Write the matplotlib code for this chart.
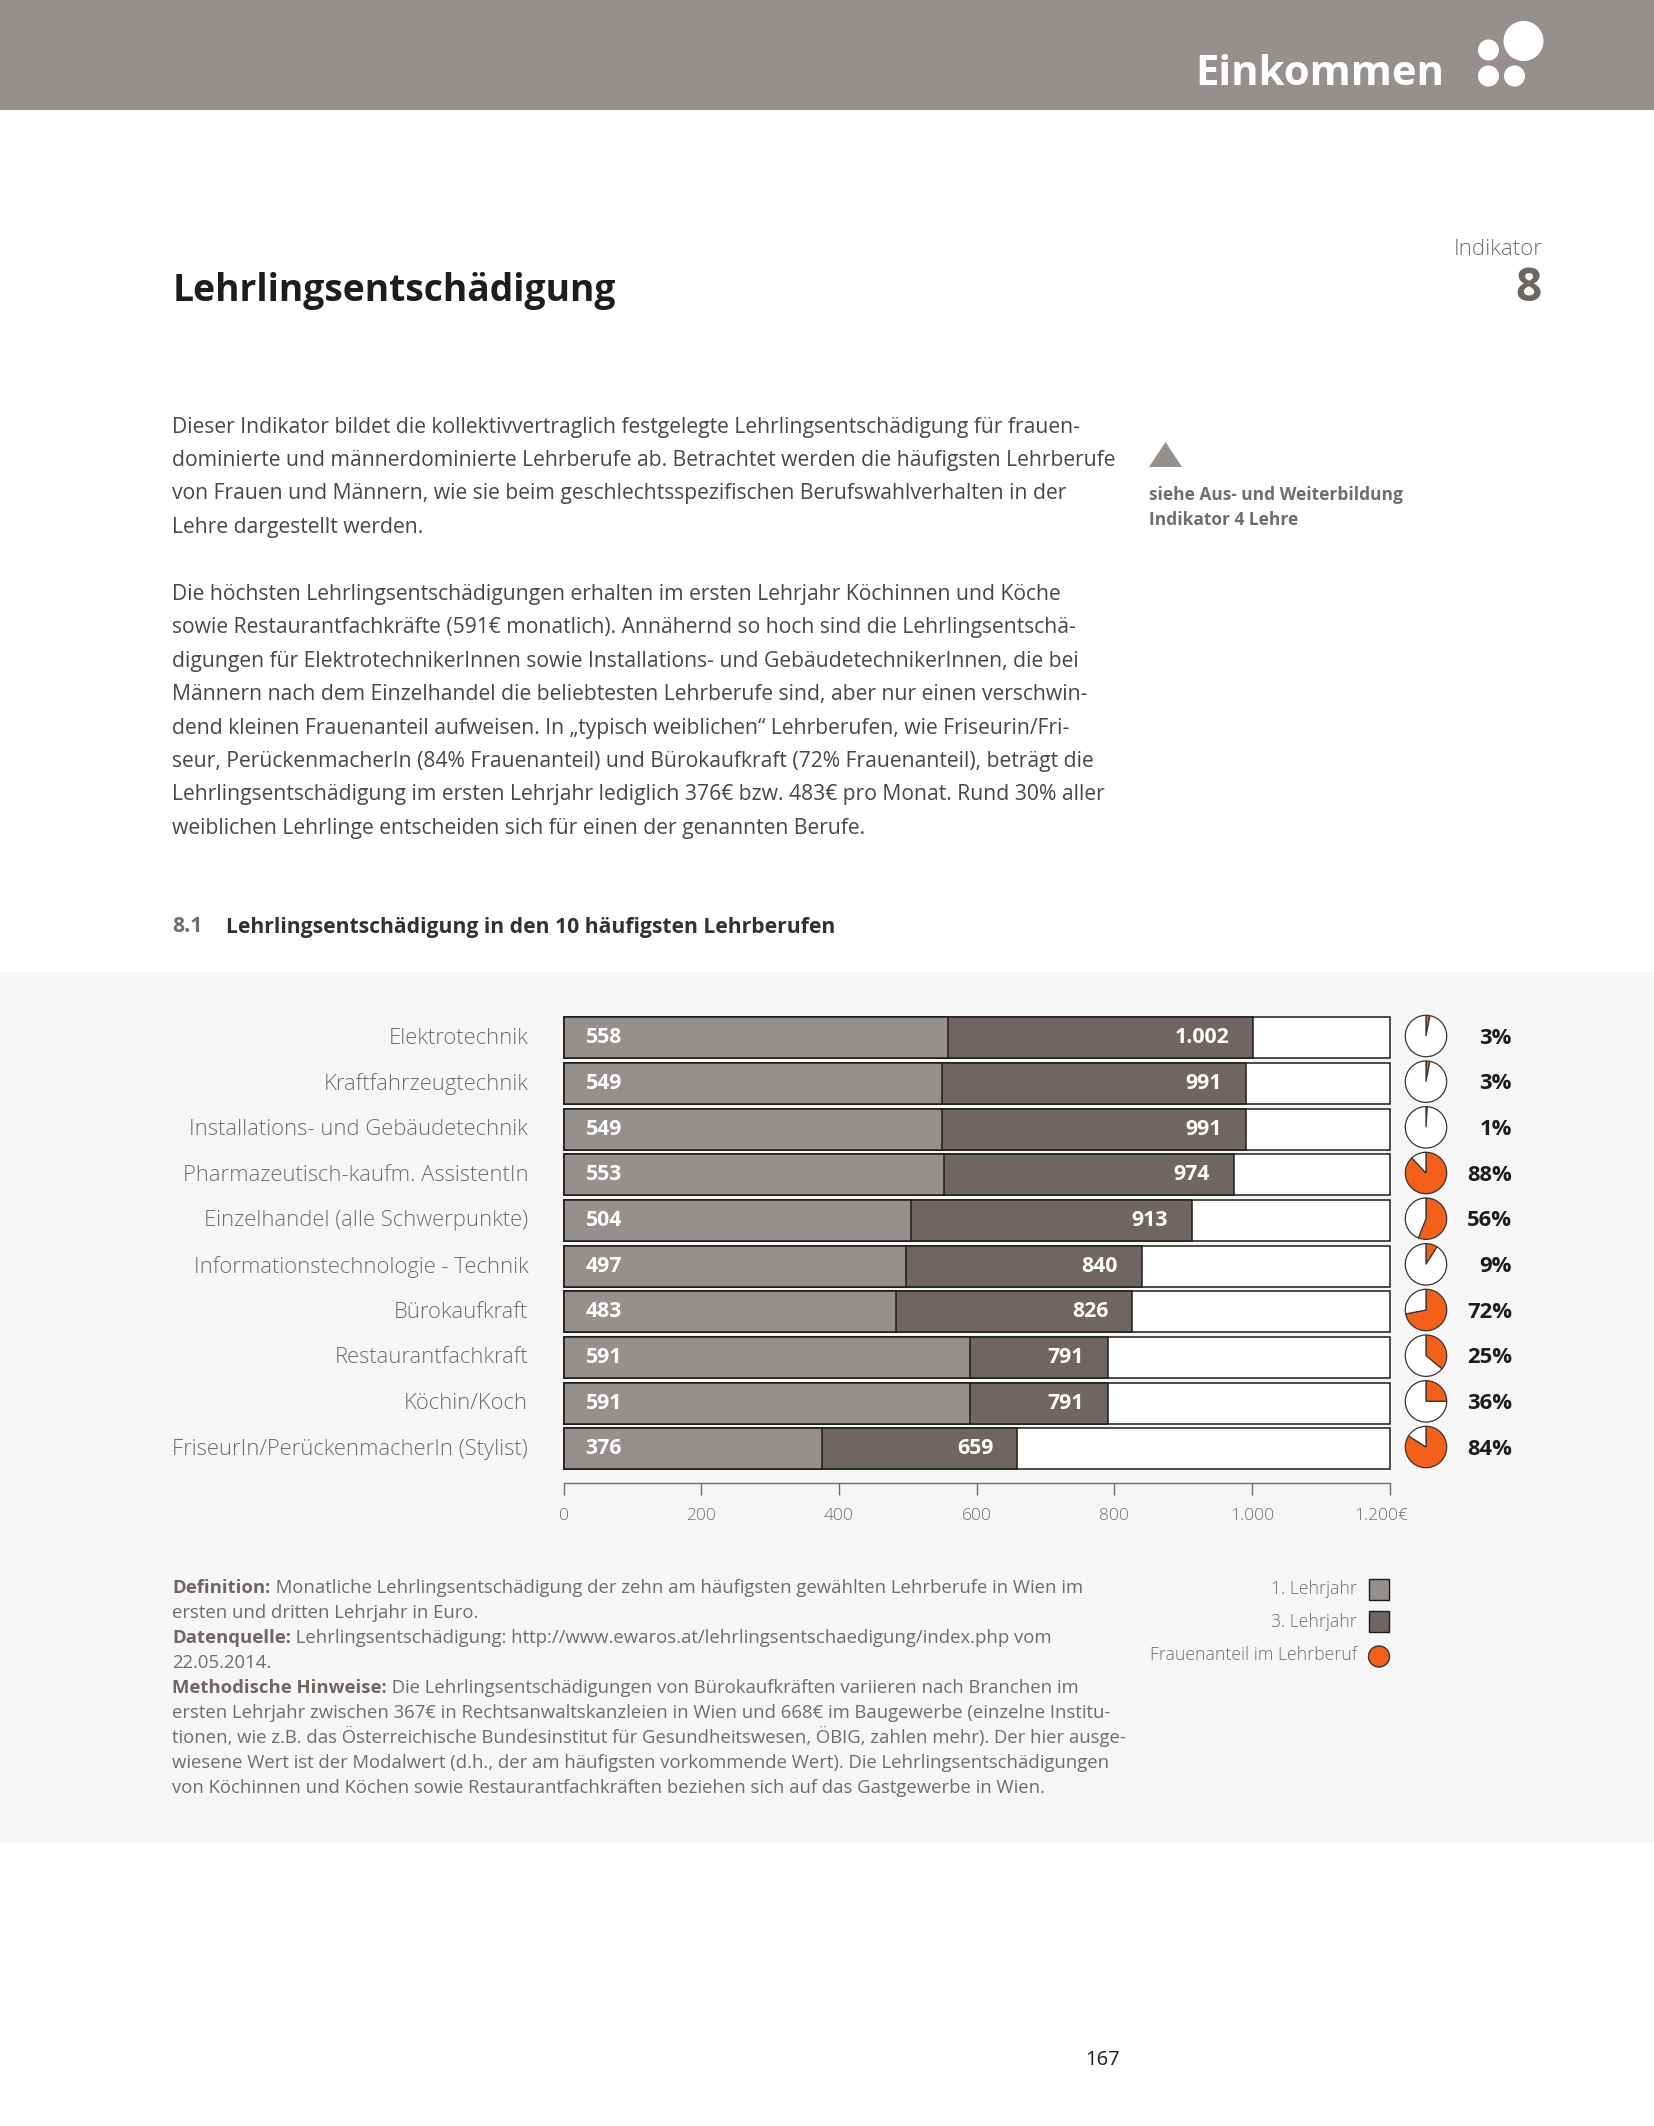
import matplotlib
matplotlib.use("Agg")
import matplotlib.pyplot as plt
from matplotlib.patches import Circle, Polygon, Rectangle
from matplotlib.transforms import ScaledTranslation

W, H = 1654, 2126
plt.rcParams["font.family"] = ["Open Sans", "DejaVu Sans"]

categories = [
    "Elektrotechnik", "Kraftfahrzeugtechnik", "Installations- und Gebäudetechnik",
    "Pharmazeutisch-kaufm. AssistentIn", "Einzelhandel (alle Schwerpunkte)",
    "Informationstechnologie - Technik", "Bürokaufkraft", "Restaurantfachkraft",
    "Köchin/Koch", "FriseurIn/PerückenmacherIn (Stylist)",
]
year1 = [558, 549, 549, 553, 504, 497, 483, 591, 591, 376]
year3 = [1002, 991, 991, 974, 913, 840, 826, 791, 791, 659]
year3_labels = ["1.002", "991", "991", "974", "913", "840", "826", "791", "791", "659"]
female_labels = ["3%", "3%", "1%", "88%", "56%", "9%", "72%", "25%", "36%", "84%"]
# the printed pies for 25% and 36% are swapped in the source
female_pies = [3, 3, 1, 88, 56, 9, 72, 36, 25, 84]
xticks = [0, 200, 400, 600, 800, 1000, 1200]
xtick_labels = ["0", "200", "400", "600", "800", "1.000", "1.200€"]

para1 = [
    "Dieser Indikator bildet die kollektivvertraglich festgelegte Lehrlingsentschädigung für frauen-",
    "dominierte und männerdominierte Lehrberufe ab. Betrachtet werden die häufigsten Lehrberufe",
    "von Frauen und Männern, wie sie beim geschlechtsspezifischen Berufswahlverhalten in der",
    "Lehre dargestellt werden.",
]
para2 = [
    "Die höchsten Lehrlingsentschädigungen erhalten im ersten Lehrjahr Köchinnen und Köche",
    "sowie Restaurantfachkräfte (591€ monatlich). Annähernd so hoch sind die Lehrlingsentschä-",
    "digungen für ElektrotechnikerInnen sowie Installations- und GebäudetechnikerInnen, die bei",
    "Männern nach dem Einzelhandel die beliebtesten Lehrberufe sind, aber nur einen verschwin-",
    "dend kleinen Frauenanteil aufweisen. In „typisch weiblichen“ Lehrberufen, wie Friseurin/Fri-",
    "seur, PerückenmacherIn (84% Frauenanteil) und Bürokaufkraft (72% Frauenanteil), beträgt die",
    "Lehrlingsentschädigung im ersten Lehrjahr lediglich 376€ bzw. 483€ pro Monat. Rund 30% aller",
    "weiblichen Lehrlinge entscheiden sich für einen der genannten Berufe.",
]
notes = [
    ("Definition:", " Monatliche Lehrlingsentschädigung der zehn am häufigsten gewählten Lehrberufe in Wien im"),
    ("", "ersten und dritten Lehrjahr in Euro."),
    ("Datenquelle:", " Lehrlingsentschädigung: http://www.ewaros.at/lehrlingsentschaedigung/index.php vom"),
    ("", "22.05.2014."),
    ("Methodische Hinweise:", " Die Lehrlingsentschädigungen von Bürokaufkräften variieren nach Branchen im"),
    ("", "ersten Lehrjahr zwischen 367€ in Rechtsanwaltskanzleien in Wien und 668€ im Baugewerbe (einzelne Institu-"),
    ("", "tionen, wie z.B. das Österreichische Bundesinstitut für Gesundheitswesen, ÖBIG, zahlen mehr). Der hier ausge-"),
    ("", "wiesene Wert ist der Modalwert (d.h., der am häufigsten vorkommende Wert). Die Lehrlingsentschädigungen"),
    ("", "von Köchinnen und Köchen sowie Restaurantfachkräften beziehen sich auf das Gastgewerbe in Wien."),
]

GREY = "#958f8e"
DARK = "#6f6663"
ORANGE = "#f26019"
PANEL = "#f6f6f6"
INK = "#1d1d1b"
BODY = "#4b4543"
LABEL = "#716c6b"


def pixel_rect(left, top, right, bottom):
    return [left / W, 1 - bottom / H, (right - left) / W, (bottom - top) / H]


fig = plt.figure(figsize=(W / 100, H / 100), dpi=100, facecolor="white")

# page layer, in image pixels
page = fig.add_axes([0, 0, 1, 1], zorder=0)
page.set_xlim(0, W)
page.set_ylim(H, 0)
page.axis("off")
page.add_patch(Rectangle((0, 0), W, 110, fc=GREY, ec="none"))
page.add_patch(Rectangle((0, 972), W, 871, fc=PANEL, ec="none"))
for cx, cy, r in [(1523.5, 41, 20), (1488.5, 50, 10.5), (1488.5, 76, 10.5), (1514.5, 76, 10.5)]:
    page.add_patch(Circle((cx, cy), r, fc="white", ec="none"))
page.text(1444, 85, "Einkommen", ha="right", va="baseline", color="white", fontsize=30.2, fontweight="bold")
page.text(1543, 255, "Indikator", ha="right", va="baseline", color=LABEL, fontsize=16, fontweight="light")
page.text(1542, 301, "8", ha="right", va="baseline", color=DARK, fontsize=33, fontweight="bold")
page.text(172.5, 301, "Lehrlingsentschädigung", va="baseline", color=INK, fontsize=26.8, fontweight="bold")

for i, line in enumerate(para1):
    page.text(172.5, 432.5 + 33.4 * i, line, va="baseline", color=BODY, fontsize=15.2)
for i, line in enumerate(para2):
    page.text(172.5, 600 + 33.4 * i, line, va="baseline", color=BODY, fontsize=15.2)

page.add_patch(Polygon([(1149, 467), (1165.5, 442), (1182, 467)], fc=GREY, ec="none"))
page.text(1149, 500, "siehe Aus- und Weiterbildung", va="baseline", color=LABEL, fontsize=12.5, fontweight="bold")
page.text(1149, 525, "Indikator 4 Lehre", va="baseline", color=LABEL, fontsize=12.5, fontweight="bold")

page.text(172.5, 932.5, "8.1", va="baseline", color=LABEL, fontsize=15.2, fontweight="bold")
page.text(226.5, 932.5, "Lehrlingsentschädigung in den 10 häufigsten Lehrberufen", va="baseline",
          color="#333030", fontsize=15.2, fontweight="bold")

# bars
ax = fig.add_axes(pixel_rect(563.6, 1017.3, 1389.7, 1483.3), zorder=2)
ax.patch.set_alpha(0)
rows = list(range(len(categories)))
ax.barh(rows, [xticks[-1]] * len(rows), height=0.898, color="white", edgecolor=INK, linewidth=1.1, clip_on=False)
ax.barh(rows, year3, height=0.898, color=DARK, edgecolor=INK, linewidth=1.1, clip_on=False)
ax.barh(rows, year1, height=0.898, color=GREY, edgecolor=INK, linewidth=1.1, clip_on=False)
ax.set_xlim(0, 1200)
ax.set_ylim(9.755, -0.449)
ax.set_yticks(rows, categories, fontsize=15.8, fontweight="light", color=LABEL)
ax.tick_params(axis="y", length=0, pad=25.5)
for label in ax.get_yticklabels():
    label.set_transform(label.get_transform() + ScaledTranslation(0, 0.02, fig.dpi_scale_trans))
ax.set_xticks(xticks, xtick_labels, fontsize=12.5, fontweight="light", color=LABEL)
ax.tick_params(axis="x", length=8.9, width=1, color=LABEL, pad=9)
last = ax.get_xticklabels()[-1]
last.set_transform(last.get_transform() + ScaledTranslation(-0.08, 0, fig.dpi_scale_trans))
for name in ["top", "left", "right"]:
    ax.spines[name].set_visible(False)
ax.spines["bottom"].set_color(LABEL)
ax.spines["bottom"].set_linewidth(1)

for row in rows:
    ax.annotate(str(year1[row]), (0, row), xytext=(58.4 * 0.72, 0), textcoords="offset points",
                ha="right", va="center", color="white", fontsize=15.3, fontweight="bold")
    ax.annotate(year3_labels[row], (year3[row], row), xytext=(-24 * 0.72, 0), textcoords="offset points",
                ha="right", va="center", color="white", fontsize=15.3, fontweight="bold")

# pies with the female share, clockwise from twelve o'clock
for row, share in enumerate(female_pies):
    cy = 1036 + 45.67 * row
    pie_ax = fig.add_axes(pixel_rect(1426 - 23, cy - 23, 1426 + 23, cy + 23), zorder=2)
    pie_ax.pie([share, 100 - share], colors=[ORANGE, "white"], startangle=90, counterclock=False,
               radius=1, wedgeprops={"edgecolor": "#3a3432", "linewidth": 0.9})
    pie_ax.set_xlim(-23 / 20.7, 23 / 20.7)
    pie_ax.set_ylim(-23 / 20.7, 23 / 20.7)
    page.text(1512, cy + 7.5, female_labels[row], ha="right", va="baseline", color=INK,
              fontsize=15.8, fontweight="bold")

# footnotes, bold run-in followed by regular text
renderer = fig.canvas.get_renderer()
for i, (head, tail) in enumerate(notes):
    y = 1592.7 + 25 * i
    x = 172.5
    if head:
        bold = page.text(x, y, head, va="baseline", color=DARK, fontsize=13.3, fontweight="bold")
        x = bold.get_window_extent(renderer).x1
    page.text(x, y, tail, va="baseline", color=LABEL, fontsize=13.3)

# legend
page.add_patch(Rectangle((1368.5, 1579), 20.5, 21, fc=GREY, ec=INK, lw=1))
page.add_patch(Rectangle((1368.5, 1611), 20.5, 21, fc=DARK, ec=INK, lw=1))
page.add_patch(Circle((1379, 1656.5), 10.5, fc=ORANGE, ec="#3a3432", lw=1))
for y, label in [(1594, "1. Lehrjahr"), (1627, "3. Lehrjahr"), (1660, "Frauenanteil im Lehrberuf")]:
    page.text(1357, y, label, ha="right", va="baseline", color=LABEL, fontsize=12.7, fontweight="light")

page.text(1102, 2065, "167", ha="center", va="baseline", color=INK, fontsize=14.5)

fig.savefig("out.png", dpi=100)
